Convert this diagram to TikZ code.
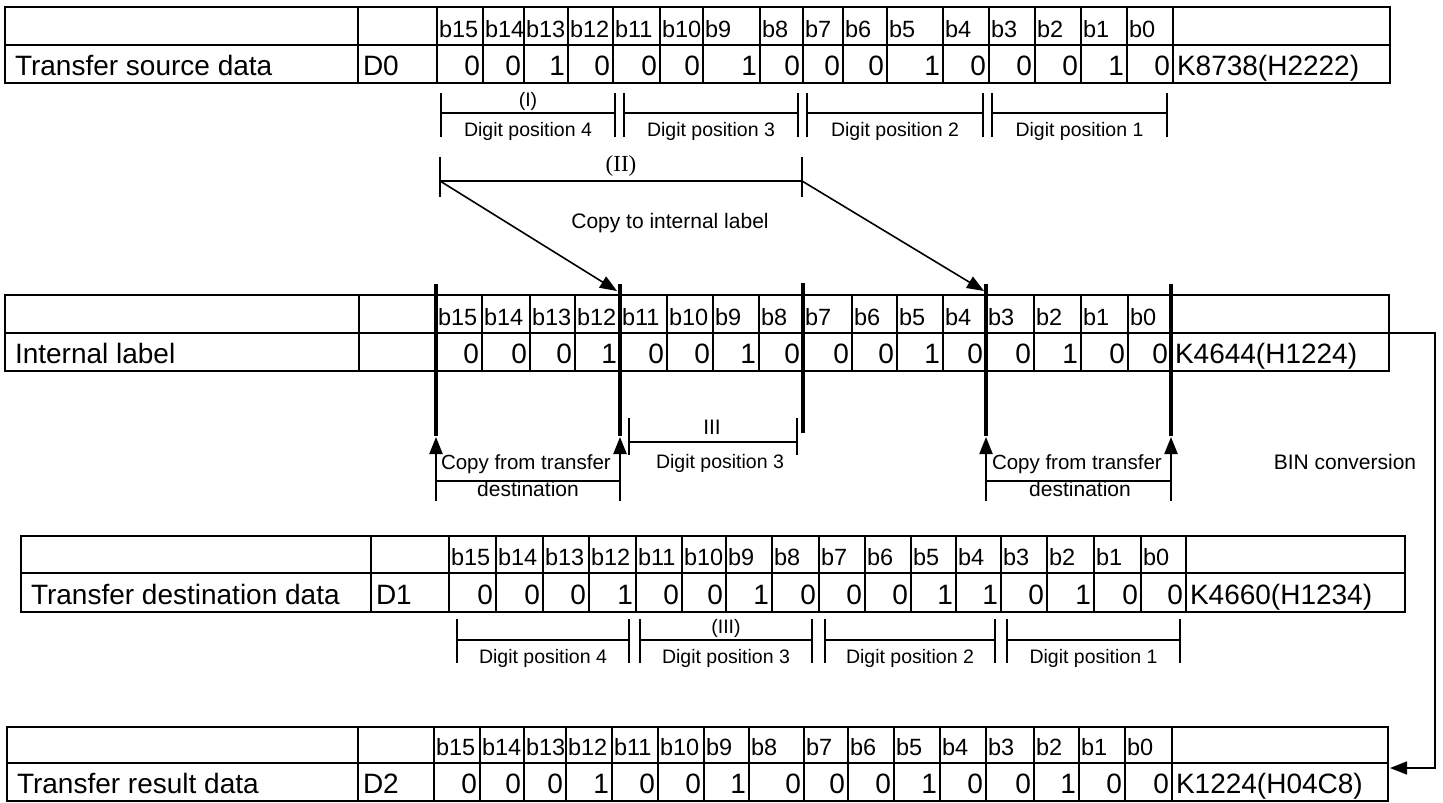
\documentclass[tikz,border=0pt]{standalone}
\usepackage{fontspec}
\setmainfont{Liberation Sans}
\newfontfamily\serifII{Liberation Serif}
\usetikzlibrary{arrows.meta}
\begin{document}
\begin{tikzpicture}[x=1pt,y=-1pt,
  tbl/.style={line width=2.5pt},
  thk/.style={line width=3.6pt},
  brk/.style={line width=2pt},
  darr/.style={line width=1.6pt,-{Triangle[length=17pt,width=13pt]}},
  uarr/.style={line width=2.2pt,-{Triangle[length=17pt,width=13pt]}},
  txt/.style={inner sep=0pt,outer sep=0pt},
  lbl/.style={txt,anchor=base west,font=\fontsize{28}{30}\selectfont},
  hdr/.style={txt,anchor=base west,font=\fontsize{23.5}{25}\selectfont},
  val/.style={txt,anchor=base east,font=\fontsize{28}{30}\selectfont},
  dig/.style={txt,anchor=base,font=\fontsize{19.5}{21}\selectfont},
  note/.style={txt,anchor=base,font=\fontsize{21}{23}\selectfont},
  copyt/.style={txt,anchor=base west,font=\fontsize{20.5}{22}\selectfont},
]
\useasboundingbox (0,0) rectangle (1443,803);

% ---------------- Table 1: Transfer source data
\draw[tbl] (5,7) rectangle (1390,83);
\draw[tbl] (5,45) -- (1390,45);
\draw[tbl] (358,7) -- (358,83);
\foreach \l/\r/\b/\v in {437/483/15/0,483/524/14/0,524/568/13/1,568/613/12/0,613/660/11/0,660/703/10/0,703/760/9/1,760/803/8/0,803/843/7/0,843/887/6/0,887/943/5/1,943/989/4/0,989/1035/3/0,1035/1081/2/0,1081/1127/1/1,1127/1173/0/0}{
  \draw[tbl] (\l,7) -- (\l,83);
  \node[hdr] (ah\b) at (\l+2,37) {b\b};
  \node[val] (av\b) at (\r-3,75) {\v};
}
\draw[tbl] (1173,7) -- (1173,83);
\node[lbl] (alabel) at (15,75) {Transfer source data};
\node[lbl] (adev) at (363,75) {D0};
\node[lbl] (ak) at (1177,75) {K8738(H2222)};

% digit positions under table 1
\foreach \l/\r/\n in {441/615/4,624/798/3,807/983/2,992/1167/1}{
  \coordinate (pL\n) at (\l,113);
  \coordinate (pR\n) at (\r,113);
  \draw[brk] (\l,93) -- (\l,137);
  \draw[brk] (\r,93) -- (\r,137);
  \draw[brk] (pL\n) -- (pR\n);
  \node[dig] (pd\n) at ({(\l+\r)/2},136) {Digit position \n};
}
\node[dig] (pI) at (528,106) {(I)};

% (II) span and copy arrows
\coordinate (qL) at (440,181);
\coordinate (qR) at (802,181);
\draw[brk] (440,157) -- (440,197);
\draw[brk] (802,157) -- (802,197);
\draw[brk] (qL) -- (qR);
\node[dig,font=\serifII\fontsize{23}{25}\selectfont] (pII) at (621,171) {(II)};
\node[note] (copyto) at (670,228) {Copy to internal label};
\coordinate (tipA) at (617,291);
\coordinate (tipB) at (984,291);
\draw[darr] (qL) -- (tipA);
\draw[darr] (qR) -- (tipB);

% ---------------- Table 2: Internal label
\draw[tbl] (5,295) rectangle (1389,371);
\draw[tbl] (5,333) -- (1389,333);
\draw[tbl] (359,295) -- (359,371);
\foreach \l/\r/\b/\v in {436/482/15/0,482/530/14/0,530/575/13/0,575/620/12/1,620/667/11/0,667/713/10/0,713/759/9/1,759/803/8/0,803/852/7/0,852/897/6/0,897/943/5/1,943/986/4/0,986/1034/3/0,1034/1081/2/1,1081/1128/1/0,1128/1171/0/0}{
  \draw[tbl] (\l,295) -- (\l,371);
  \node[hdr] (bh\b) at (\l+2,325) {b\b};
  \node[val] (bv\b) at (\r-3,363) {\v};
}
\draw[tbl] (1171,295) -- (1171,371);
\node[lbl] (blabel) at (15,363) {Internal label};
\node[lbl] (bk) at (1175,363) {K4644(H1224)};

% long boundary lines through internal label
\foreach \x in {436,620,986,1171}{
  \draw[thk] (\x,284) -- (\x,436);
}
\draw[thk] (803,283) -- (803,433);

% copy from transfer destination arrows
\foreach \x/\n in {436/a,620/b,986/c,1171/d}{
  \coordinate (ub\n) at (\x,501);
  \coordinate (ut\n) at (\x,437);
  \draw[uarr] (ub\n) -- (ut\n);
}
\coordinate (hA) at (436,481);
\coordinate (hB) at (620,481);
\coordinate (hC) at (986,481);
\coordinate (hD) at (1171,481);
\draw[brk] (hA) -- (hB);
\draw[brk] (hC) -- (hD);
\node[copyt] (cf1) at (441,469) {Copy from transfer};
\node[note] (dst1) at (528,496) {destination};
\node[copyt] (cf2) at (992,469) {Copy from transfer};
\node[note] (dst2) at (1080,496) {destination};

% III span
\coordinate (rL) at (629,442);
\coordinate (rR) at (797,442);
\draw[brk] (629,418) -- (629,455);
\draw[brk] (797,418) -- (797,455);
\draw[brk] (rL) -- (rR);
\node[dig,font=\fontsize{21}{23}\selectfont] (iii) at (712,434) {III};
\node[dig] (iiid) at (720,468) {Digit position 3};

% BIN conversion
\node[note] (bin) at (1345,469) {BIN conversion};
\coordinate (bA) at (1389,333);
\coordinate (bB) at (1435,333);
\coordinate (bC) at (1435,768);
\coordinate (bD) at (1390,768);
\draw[darr] (bA) -- (bB) -- (bC) -- (bD);

% ---------------- Table 3: Transfer destination data
\draw[tbl] (21,536) rectangle (1405,612);
\draw[tbl] (21,573) -- (1405,573);
\draw[tbl] (371,536) -- (371,612);
\foreach \l/\r/\b/\v in {449/496/15/0,496/543/14/0,543/589/13/0,589/636/12/1,636/682/11/0,682/726/10/0,726/772/9/1,772/819/8/0,819/865/7/0,865/911/6/0,911/956/5/1,956/1001/4/1,1001/1047/3/0,1047/1094/2/1,1094/1141/1/0,1141/1186/0/0}{
  \draw[tbl] (\l,536) -- (\l,612);
  \node[hdr] (ch\b) at (\l+2,565) {b\b};
  \node[val] (cv\b) at (\r-3,604) {\v};
}
\draw[tbl] (1186,536) -- (1186,612);
\node[lbl] (clabel) at (31,604) {Transfer destination data};
\node[lbl] (cdev) at (376,604) {D1};
\node[lbl] (ck) at (1190,604) {K4660(H1234)};

% digit positions under table 3
\foreach \l/\r/\n in {457/629/4,640/812/3,825/995/2,1007/1180/1}{
  \coordinate (sL\n) at (\l,640);
  \coordinate (sR\n) at (\r,640);
  \draw[brk] (\l,619) -- (\l,663);
  \draw[brk] (\r,619) -- (\r,663);
  \draw[brk] (sL\n) -- (sR\n);
  \node[dig] (sd\n) at ({(\l+\r)/2},663) {Digit position \n};
}
\node[dig] (sIII) at (726,633) {(III)};

% ---------------- Table 4: Transfer result data
\draw[tbl] (7,727) rectangle (1388,801);
\draw[tbl] (7,763) -- (1388,763);
\draw[tbl] (358,727) -- (358,801);
\foreach \l/\r/\b/\v in {434/480/15/0,480/524/14/0,524/566/13/0,566/612/12/1,612/658/11/0,658/704/10/0,704/749/9/1,749/804/8/0,804/848/7/0,848/894/6/0,894/940/5/1,940/986/4/0,986/1034/3/0,1034/1079/2/1,1079/1125/1/0,1125/1172/0/0}{
  \draw[tbl] (\l,727) -- (\l,801);
  \node[hdr] (dh\b) at (\l+2,755) {b\b};
  \node[val] (dv\b) at (\r-3,793) {\v};
}
\draw[tbl] (1172,727) -- (1172,801);
\node[lbl] (dlabel) at (17,793) {Transfer result data};
\node[lbl] (ddev) at (363,793) {D2};
\node[lbl] (dk) at (1176,793) {K1224(H04C8)};
\end{tikzpicture}
\end{document}
